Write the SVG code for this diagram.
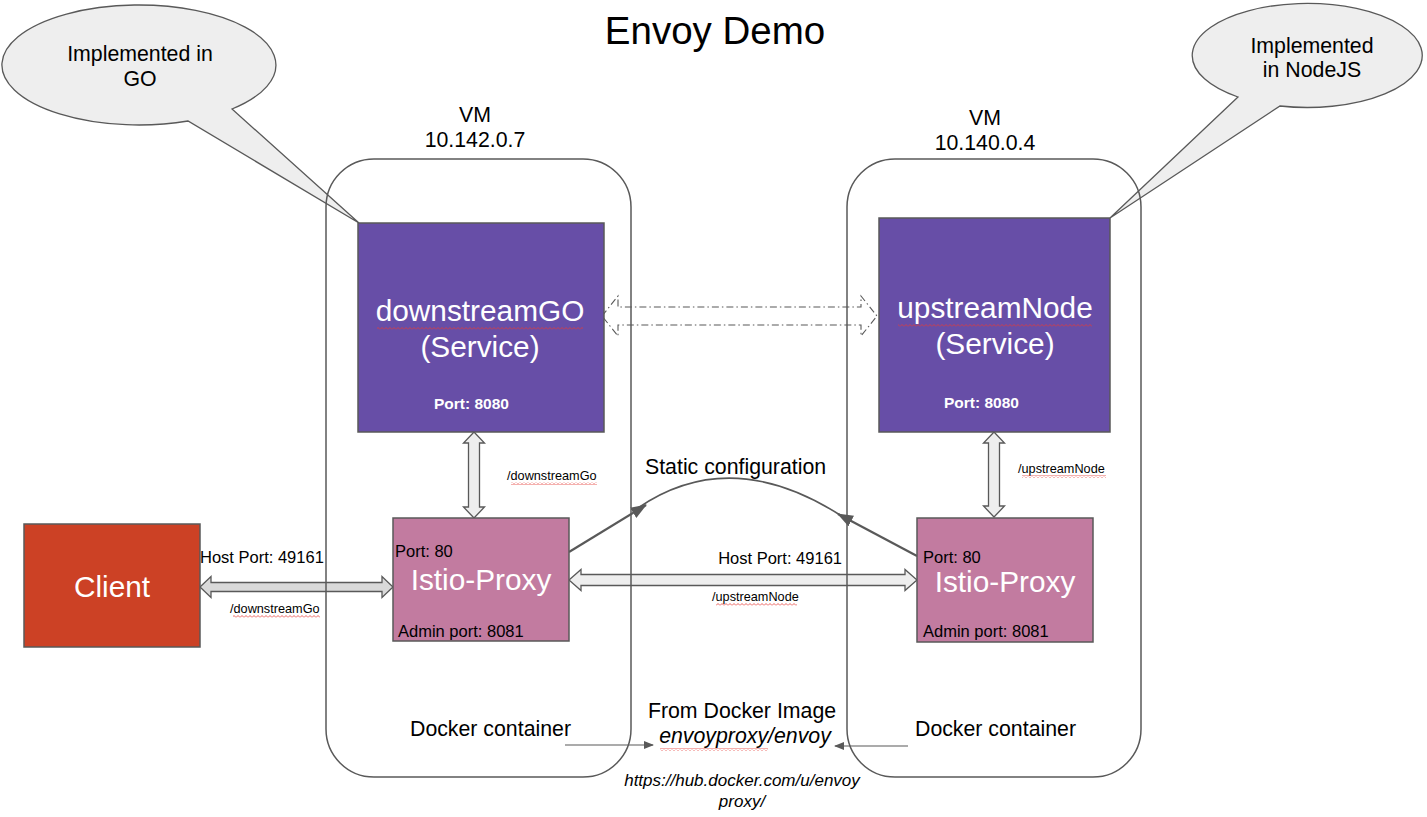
<svg xmlns="http://www.w3.org/2000/svg" width="1427" height="817" viewBox="0 0 1427 817">
<style>
text{font-family:"Liberation Sans",Arial,sans-serif;fill:#000}
.w{fill:#fff}
.big{font-size:29.8px}
.sm{font-size:12.7px}
.md{font-size:16.5px}
.lg{font-size:21.3px}
.pt{font-size:16.5px}
.it{font-style:italic}
.mid{text-anchor:middle}
.box{stroke:#595959;stroke-width:1.5}
.blk{fill:#EEEEEE;stroke:#595959;stroke-width:1.3}
.call{fill:#EEEEEE;stroke:#595959;stroke-width:1.3}
.vm{fill:none;stroke:#595959;stroke-width:1.5}
.ln{fill:none;stroke:#595959}
.sq{fill:url(#squig)}
</style>
<defs>
<pattern id="squig" width="4" height="3" patternUnits="userSpaceOnUse">
<path d="M0,2.5 L2,0.5 L4,2.5" fill="none" stroke="#E53935" stroke-width="0.8"/>
</pattern>
<marker id="ah" markerWidth="10" markerHeight="8" refX="9" refY="4" orient="auto" markerUnits="userSpaceOnUse">
<path d="M0,0 L10,4 L0,8 Z" fill="#595959"/>
</marker>
<marker id="ahb" markerWidth="16" markerHeight="12" refX="15" refY="6" orient="auto" markerUnits="userSpaceOnUse">
<path d="M0,0 L16,6 L0,12 Z" fill="#595959"/>
</marker>
</defs>
<rect width="1427" height="817" fill="#fff"/>

<text x="715" y="44" class="mid" style="font-size:38.5px">Envoy Demo</text>

<g id="callout-go">
<path class="call" d="M232,109 A137,60 0 1 0 188,121 L359,223 Z"/>
<text x="140" y="61" class="mid lg">Implemented in</text>
<text x="140" y="86" class="mid lg">GO</text>
</g>
<g id="callout-node">
<path class="call" d="M1238,97 A115,52 0 1 1 1280,106 L1110,218 Z"/>
<text x="1312" y="53" class="mid lg">Implemented</text>
<text x="1312" y="77" class="mid lg">in NodeJS</text>
</g>

<g id="connectors">
<path d="M602,316 L618,296 L618,307 L861,307 L861,296 L877,316 L861,336 L861,325 L618,325 L618,336 Z" fill="#fff" stroke="#595959" stroke-width="1.1" stroke-dasharray="7,3,1.5,3"/>
<polygon class="blk" points="474,432 484.5,443 479.5,443 479.5,507 484.5,507 474,518 463.5,507 468.5,507 468.5,443 463.5,443"/>
<polygon class="blk" points="994,432 1004.5,443 999.5,443 999.5,506 1004.5,506 994,517 983.5,506 988.5,506 988.5,443 983.5,443"/>
<polygon class="blk" style="fill:#D9D9D9" points="200,587 211,576.5 211,582.5 382,582.5 382,576.5 393,587 382,597.5 382,591.5 211,591.5 211,597.5"/>
<polygon class="blk" points="569,580 581,569.5 581,574.5 905,574.5 905,569.5 917,580 905,590.5 905,585.5 581,585.5 581,590.5"/>
<path class="ln" stroke-width="2.2" d="M569,552 L646,505" marker-end="url(#ahb)"/>
<path class="ln" stroke-width="1.6" d="M638,508 Q730,445 840,515"/>
<path class="ln" stroke-width="2.2" d="M917,556 L838,514" marker-end="url(#ahb)"/>
<path class="ln" stroke-width="1.2" d="M565,745 L653,745" marker-end="url(#ah)"/>
<path class="ln" stroke-width="1.2" d="M908,746 L835,746" marker-end="url(#ah)"/>
<text x="507" y="480" class="sm">/downstreamGo</text>
<rect x="511" y="482" width="86" height="3" class="sq"/>
<text x="1018" y="473" class="sm">/upstreamNode</text>
<rect x="1022" y="475" width="84" height="3" class="sq"/>
<text x="200" y="563" class="md">Host Port: 49161</text>
<text x="230" y="613" class="sm">/downstreamGo</text>
<rect x="233" y="615" width="87" height="3" class="sq"/>
<text x="842" y="564" class="md" text-anchor="end">Host Port: 49161</text>
<text x="712" y="601" class="sm">/upstreamNode</text>
<rect x="716" y="603" width="81" height="3" class="sq"/>
<text x="645" y="474" class="lg">Static configuration</text>
</g>

<g id="client">
<rect x="24" y="524" width="176" height="123" fill="#CC4125" class="box"/>
<text x="112" y="597" class="mid big w">Client</text>
</g>

<g id="downstreamGO">
<rect x="358" y="223" width="246" height="209" fill="#674EA7" class="box"/>
<text x="480" y="321" class="mid big w">downstreamGO</text>
<rect x="377" y="327" width="206" height="3" class="sq"/>
<text x="480" y="357" class="mid big w">(Service)</text>
<text x="471.5" y="409" class="mid w" style="font-size:15.5px;font-weight:bold">Port: 8080</text>
</g>

<g id="upstreamNode">
<rect x="879" y="218" width="231" height="214" fill="#674EA7" class="box"/>
<text x="995" y="318" class="mid big w">upstreamNode</text>
<rect x="898" y="324" width="194" height="3" class="sq"/>
<text x="995" y="354" class="mid big w">(Service)</text>
<text x="981.5" y="408" class="mid w" style="font-size:15.5px;font-weight:bold">Port: 8080</text>
</g>

<g id="proxy-left">
<rect x="393" y="518" width="176" height="123" fill="#C27BA0" class="box"/>
<text x="395" y="557" class="pt">Port: 80</text>
<text x="481" y="590" class="mid big w">Istio-Proxy</text>
<text x="398" y="637" class="pt">Admin port: 8081</text>
</g>

<g id="proxy-right">
<rect x="917" y="518" width="176" height="124" fill="#C27BA0" class="box"/>
<text x="923" y="563" class="pt">Port: 80</text>
<text x="1005" y="592" class="mid big w">Istio-Proxy</text>
<text x="923" y="637" class="pt">Admin port: 8081</text>
</g>

<g id="vm-left">
<rect x="326" y="159" width="305" height="618" rx="48" class="vm"/>
<text x="475" y="122" class="mid lg">VM</text>
<text x="475" y="147" class="mid lg">10.142.0.7</text>
<text x="410" y="736" class="lg">Docker container</text>
</g>

<g id="vm-right">
<rect x="847" y="159" width="294" height="618" rx="48" class="vm"/>
<text x="985" y="125" class="mid lg">VM</text>
<text x="985" y="150" class="mid lg">10.140.0.4</text>
<text x="915" y="736" class="lg">Docker container</text>
</g>

<g id="docker-image">
<text x="742" y="718" class="mid lg">From Docker Image</text>
<text x="745" y="743" class="mid lg it">envoyproxy/envoy</text>
<rect x="660" y="748" width="108" height="3" class="sq"/>
<text x="742" y="786" class="mid it" style="font-size:17px">https://hub.docker.com/u/envoy</text>
<text x="742" y="807" class="mid it" style="font-size:17px">proxy/</text>
</g>
</svg>
